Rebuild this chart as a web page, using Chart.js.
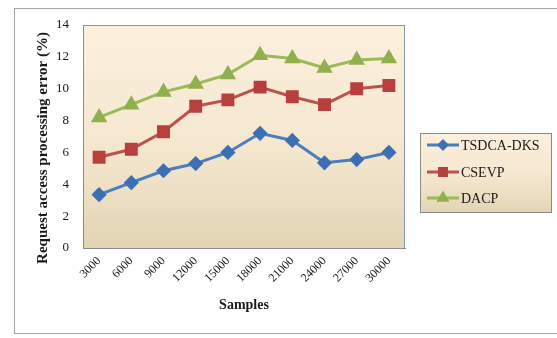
<!DOCTYPE html>
<html>
<head>
<meta charset="utf-8">
<script src="https://cdn.jsdelivr.net/npm/chart.js@4/dist/chart.umd.min.js"></script>
<style>
  html, body { margin: 0; padding: 0; background: #ffffff; }
  #wrap { width: 557px; height: 338px; }
</style>
</head>
<body>
<div id="wrap"><canvas id="c" width="557" height="338"></canvas></div>
<script>
// Sample counts along the horizontal axis
const samples = ['3000', '6000', '9000', '12000', '15000', '18000', '21000', '24000', '27000', '30000'];

// Request access processing error (%) per method
const tsdcaDks = [3.35, 4.1, 4.85, 5.3, 6.0, 7.2, 6.75, 5.35, 5.55, 6.0];
const csevp    = [5.7, 6.2, 7.3, 8.9, 9.3, 10.1, 9.5, 9.0, 10.0, 10.2];
const dacp     = [8.2, 9.0, 9.8, 10.3, 10.9, 12.1, 11.9, 11.3, 11.8, 11.9];

const seriesNames = ['TSDCA-DKS', 'CSEVP', 'DACP'];
const yTicks = [0, 2, 4, 6, 8, 10, 12, 14];

const yTitle = 'Request access processing error (%)';
const xTitle = 'Samples';

const SERIF = '"Liberation Serif", "Times New Roman", serif';

function beigeGradient(ctx, top, bottom) {
  const g = ctx.createLinearGradient(0, top, 0, bottom);
  g.addColorStop(0, '#fcf0de');
  g.addColorStop(0.55, '#f5e7cf');
  g.addColorStop(1, '#e2d5b5');
  return g;
}

// Paints the outer frame, plot background, legend and vertical title
const decor = {
  id: 'decor',
  beforeDraw(chart) {
    const { ctx, chartArea: a } = chart;
    ctx.save();
    ctx.fillStyle = '#ffffff';
    ctx.fillRect(0, 0, chart.width, chart.height);
    ctx.strokeStyle = '#a6a6a6';
    ctx.lineWidth = 1;
    ctx.strokeRect(14.5, 8.5, chart.width, 325);
    ctx.fillStyle = beigeGradient(ctx, a.top, a.bottom);
    ctx.fillRect(a.left, a.top, a.right - a.left, a.bottom - a.top);
    ctx.strokeStyle = '#8796a8';
    ctx.strokeRect(a.left + 0.5, a.top + 0.5, a.right - a.left - 1, a.bottom - a.top);
    ctx.restore();
  },
  afterDraw(chart) {
    const { ctx } = chart;
    ctx.save();
    // vertical axis title
    ctx.translate(43, 148);
    ctx.rotate(-Math.PI / 2);
    ctx.font = 'bold 15px ' + SERIF;
    ctx.fillStyle = '#1a1a1a';
    ctx.textAlign = 'center';
    ctx.textBaseline = 'middle';
    ctx.fillText(yTitle, 0, 0);
    ctx.restore();

    // legend box
    const bx = 420, by = 133, bw = 131, bh = 79;
    ctx.save();
    ctx.fillStyle = beigeGradient(ctx, by, by + bh);
    ctx.fillRect(bx, by, bw, bh);
    ctx.strokeStyle = '#8a8a8a';
    ctx.lineWidth = 1;
    ctx.strokeRect(bx + 0.5, by + 0.5, bw, bh);
    const rows = [145, 172, 198];
    chart.data.datasets.forEach((ds, i) => {
      const y = rows[i];
      ctx.strokeStyle = ds.borderColor;
      ctx.lineWidth = 3;
      ctx.beginPath();
      ctx.moveTo(427, y);
      ctx.lineTo(459, y);
      ctx.stroke();
      ctx.fillStyle = ds.pointBackgroundColor;
      ctx.strokeStyle = ds.pointBorderColor;
      Chart.helpers.drawPoint(ctx, {
        pointStyle: ds.pointStyle,
        radius: ds.pointRadius * 0.7,
        borderWidth: 1
      }, 443, y);
      ctx.fillStyle = '#1a1a1a';
      ctx.font = '14px ' + SERIF;
      ctx.textAlign = 'left';
      ctx.textBaseline = 'middle';
      ctx.fillText(ds.label, 461, y + 1);
    });
    ctx.restore();
  }
};

const data = {
  labels: samples,
  datasets: [
    {
      label: seriesNames[0],
      data: tsdcaDks,
      borderColor: '#4a7ebf',
      backgroundColor: '#3d6fb3',
      pointBackgroundColor: '#3d6fb3',
      pointBorderColor: '#3d6fb3',
      pointStyle: 'rectRot',
      pointRadius: 5.5,
      borderWidth: 3
    },
    {
      label: seriesNames[1],
      data: csevp,
      borderColor: '#c0504d',
      backgroundColor: '#b8403c',
      pointBackgroundColor: '#b8403c',
      pointBorderColor: '#b8403c',
      pointStyle: 'rect',
      pointRadius: 7,
      borderWidth: 3
    },
    {
      label: seriesNames[2],
      data: dacp,
      borderColor: '#9bbb59',
      backgroundColor: '#8fb04c',
      pointBackgroundColor: '#8fb04c',
      pointBorderColor: '#8fb04c',
      pointStyle: 'triangle',
      pointRadius: 6.5,
      borderWidth: 3
    }
  ]
};

new Chart(document.getElementById('c'), {
  type: 'line',
  data,
  plugins: [decor],
  options: {
    responsive: false,
    animation: false,
    devicePixelRatio: 1,
    layout: { padding: { top: 25, right: 152, left: 0, bottom: 0 } },
    plugins: {
      legend: { display: false },
      tooltip: { enabled: false }
    },
    elements: { line: { tension: 0 } },
    scales: {
      x: {
        offset: true,
        grid: { display: false, drawTicks: false },
        border: { display: true, color: '#8c8c8c', width: 1 },
        ticks: {
          font: { family: SERIF, size: 12 },
          color: '#1a1a1a',
          minRotation: 45,
          maxRotation: 45,
          padding: 6
        },
        title: {
          display: true,
          text: xTitle,
          font: { family: SERIF, size: 14, weight: 'bold' },
          color: '#1a1a1a',
          padding: { top: 0, bottom: 24 }
        },
        afterFit(axis) { axis.height = 90; }
      },
      y: {
        min: 0,
        max: 14,
        afterBuildTicks(axis) { axis.ticks = yTicks.map(v => ({ value: v })); },
        grid: { display: false, drawTicks: false },
        border: { display: true, color: '#8c8c8c', width: 1 },
        ticks: {
          font: { family: SERIF, size: 13 },
          color: '#1a1a1a',
          padding: 14
        },
        afterFit(axis) { axis.width = 83; }
      }
    }
  }
});
</script>
</body>
</html>
